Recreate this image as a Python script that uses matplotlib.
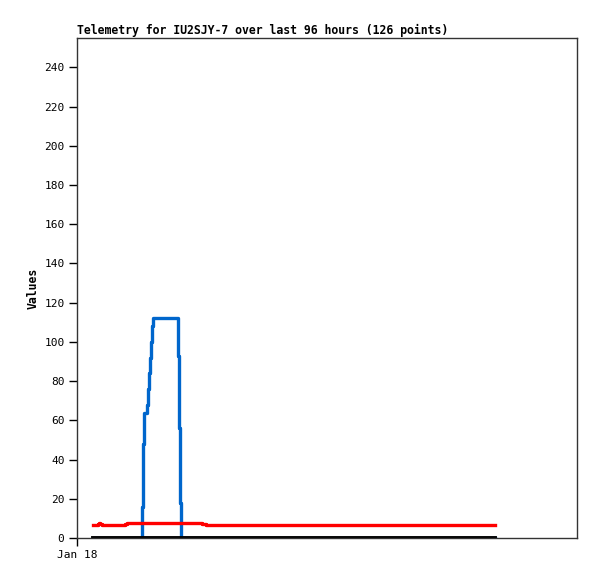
import matplotlib.pyplot as plt

# hours since Jan 18 00:00
title = "Telemetry for IU2SJY-7 over last 96 hours (126 points)"
x_max = 119.4

blue_t = [3.82, 15.45, 15.69, 16.0, 16.64, 16.96, 17.27, 17.50, 17.74, 17.91,
          18.15, 24.12, 24.43, 24.67, 24.84, 99.82]
blue_v = [0, 16, 48, 64, 68, 76, 84, 92, 100, 108, 112, 93, 56, 18, 0, 0]

red_t = [3.82, 4.94, 5.25, 5.57, 5.9, 11.46, 11.94, 29.85, 30.8, 99.82]
red_v = [6.8, 7.3, 7.7, 7.3, 6.8, 7.3, 7.8, 7.3, 6.8, 6.8]

black_t = [3.82, 99.82]
black_v = [0, 0]

y_ticks = list(range(0, 241, 20))


def main():
    fig = plt.figure(figsize=(5.97, 5.79), dpi=100)
    ax = fig.add_axes([77 / 597, 41 / 579, 500 / 597, 500 / 579])

    ax.plot(blue_t, blue_v, drawstyle='steps-post', color='#0066cc', lw=2.4)
    ax.plot(red_t, red_v, drawstyle='steps-post', color='#ff0000', lw=2.4)
    ax.plot(black_t, black_v, color='black', lw=2.8)

    ax.set_xlim(0, x_max)
    ax.set_ylim(0, 255)
    ax.set_yticks(y_ticks)
    ax.set_xticks([0])
    ax.set_xticklabels(["Jan 18"])

    for s in ax.spines.values():
        s.set_color('#333333')
        s.set_linewidth(1)
    ax.tick_params(axis='both', direction='out', length=6, width=1,
                   labelsize=8, pad=3)
    for lbl in ax.get_xticklabels() + ax.get_yticklabels():
        lbl.set_family('DejaVu Sans Mono')

    ax.set_ylabel("Values", family='DejaVu Sans Mono', fontweight='bold',
                  fontsize=8.3, labelpad=3)
    ax.set_title(title, family='DejaVu Sans Mono', fontweight='bold',
                 fontsize=8.3, loc='left', pad=3)

    fig.savefig('out.png', dpi=100)


if __name__ == "__main__":
    main()
